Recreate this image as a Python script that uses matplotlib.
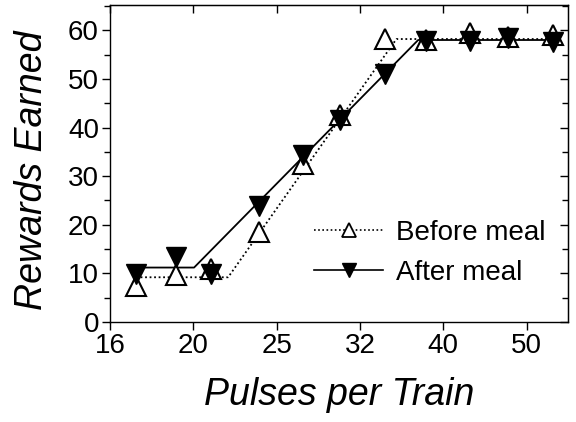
import matplotlib
matplotlib.use("Agg")
import matplotlib.pyplot as plt
from matplotlib.lines import Line2D
from matplotlib.ticker import FixedLocator, FixedFormatter, MultipleLocator, NullLocator

plt.rcParams['font.family'] = ['Liberation Sans', 'DejaVu Sans']

# pulses per train
pulses = [17.2, 19.2, 21.2, 24.2, 27.3, 30.3, 34.3, 38.4, 43.4, 48.3, 54.7]
before_meal = [7.5, 9.7, 11.0, 18.5, 32.6, 42.6, 58.2, 58.0, 59.5, 58.6, 59.0]
after_meal = [9.9, 13.4, 9.9, 23.9, 34.4, 41.6, 51.0, 57.7, 57.8, 58.4, 57.5]

# piecewise fits (break points)
before_fit_x = [17.2, 22.2, 35.4, 54.7]
before_fit_y = [9.2, 9.2, 58.2, 58.2]
after_fit_x = [17.2, 20.2, 37.6, 54.7]
after_fit_y = [11.2, 11.2, 58.0, 58.0]

tick_vals = [16 * 2 ** (k / 3) for k in range(6)]
tick_labels = ['16', '20', '25', '32', '40', '50']

fig = plt.figure(figsize=(5.76, 4.22), dpi=100)
ax = fig.add_axes([110 / 576, 100 / 422, 458 / 576, 317 / 422])

ax.plot(before_fit_x, before_fit_y, color='black', linestyle=(0, (1, 1.5)), linewidth=1.3, zorder=2)
ax.plot(after_fit_x, after_fit_y, color='black', linestyle='-', linewidth=1.3, zorder=2)
ax.plot(pulses, before_meal, linestyle='none', marker='^', markersize=14,
        markerfacecolor='white', markeredgecolor='black', markeredgewidth=1.5, zorder=3)
ax.plot(pulses, after_meal, linestyle='none', marker='v', markersize=14,
        markerfacecolor='black', markeredgecolor='black', markeredgewidth=1.0, zorder=4)

ax.set_xscale('log', base=2)
ax.set_xlim(16, 16 * 2 ** (458 / 250))
ax.xaxis.set_major_locator(FixedLocator(tick_vals))
ax.xaxis.set_major_formatter(FixedFormatter(tick_labels))
ax.xaxis.set_minor_locator(NullLocator())

ax.set_ylim(0, 65.2)
ax.yaxis.set_major_locator(MultipleLocator(10))
ax.yaxis.set_minor_locator(MultipleLocator(5))

for s in ax.spines.values():
    s.set_linewidth(1.0)

ax.tick_params(axis='both', which='major', labelsize=20, length=6, width=1.0, direction='out', pad=2)
ax.tick_params(axis='y', which='minor', length=4, width=1.0, direction='out')

# inward ticks on top and right
ax_r = ax.secondary_yaxis('right')
ax_r.yaxis.set_major_locator(MultipleLocator(10))
ax_r.yaxis.set_minor_locator(MultipleLocator(5))
ax_r.tick_params(which='major', direction='in', length=6, width=1.0, labelright=False)
ax_r.tick_params(which='minor', direction='in', length=4, width=1.0)
ax_t = ax.secondary_xaxis('top')
ax_t.xaxis.set_major_locator(FixedLocator(tick_vals))
ax_t.xaxis.set_minor_locator(NullLocator())
ax_t.tick_params(which='major', direction='in', length=6, width=1.0, labeltop=False)

ax.set_xlabel('Pulses per Train', fontsize=27, style='italic', labelpad=13)
ax.set_ylabel('Rewards Earned', fontsize=27, style='italic')
ax.yaxis.set_label_coords(-0.13, 0.48)

handles = [
    Line2D([], [], color='black', linestyle=(0, (1, 1.5)), linewidth=1.2, marker='^', markersize=10,
           markerfacecolor='white', markeredgecolor='black', markeredgewidth=1.3),
    Line2D([], [], color='black', linestyle='-', linewidth=1.2, marker='v', markersize=10,
           markerfacecolor='black', markeredgecolor='black'),
]
ax.legend(handles, ['Before meal', 'After meal'], loc='lower right', bbox_to_anchor=(0.975, 0.08),
          frameon=False, fontsize=20, handlelength=2.5, handletextpad=0.45, labelspacing=0.5,
          borderaxespad=0)

fig.savefig('out.png', dpi=100)
